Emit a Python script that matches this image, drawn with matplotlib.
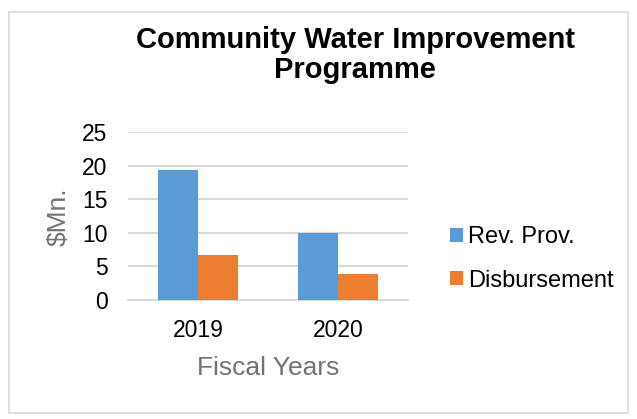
import numpy as np
import matplotlib
matplotlib.use("Agg")
import matplotlib.pyplot as plt
from matplotlib.patches import Rectangle

plt.rcParams['font.family'] = ['Liberation Sans', 'DejaVu Sans']

years = ['2019', '2020']
rev_prov = [19.4, 10.0]
disbursement = [6.7, 3.9]
series_names = ['Rev. Prov.', 'Disbursement']
yticks = [0, 5, 10, 15, 20, 25]
title_lines = ['Community Water Improvement', 'Programme']

blue = '#5B9BD5'
orange = '#ED7D31'
grid_c = '#D9D9D9'
label_c = '#737373'

fig = plt.figure(figsize=(6.37, 4.19), dpi=100, facecolor='white')
ax = fig.add_axes([0.2014, 0.284, 0.4396, 0.4002])

x = np.arange(len(years))
w = 0.2857
ax.bar(x - w / 2, rev_prov, w, color=blue, label=series_names[0], zorder=3)
ax.bar(x + w / 2, disbursement, w, color=orange, label=series_names[1], zorder=3)

ax.set_xlim(-0.5, len(years) - 0.5)
ax.set_ylim(0, 25)
ax.set_yticks(yticks)
ax.set_xticks(x)
ax.set_xticklabels(years)
ax.tick_params(axis='both', length=0, labelsize=16.5, colors='black')
ax.tick_params(axis='y', pad=15)
ax.tick_params(axis='x', pad=14)
ax.yaxis.grid(True, color=grid_c, lw=1.5, zorder=0)
for s in ['top', 'right', 'left']:
    ax.spines[s].set_visible(False)
ax.spines['bottom'].set_color(grid_c)
ax.spines['bottom'].set_linewidth(1.5)

ax.set_xlabel('Fiscal Years', fontsize=19, color=label_c, labelpad=10)
fig.text(58.5 / 637, 1 - 217 / 419, '$Mn.', rotation=90, fontsize=19,
         color=label_c, ha='center', va='center')

# two-line bold title, baselines placed separately
for line, base in zip(title_lines, [48, 78]):
    fig.text(355 / 637, 1 - base / 419, line, fontsize=21, fontweight='bold',
             ha='center', va='baseline')

fig.legend(loc='upper left', bbox_to_anchor=(450 / 637, 1 - 226 / 419),
           frameon=False, fontsize=17, handlelength=0.54, handleheight=0.54,
           handletextpad=0.24, labelspacing=0.92, borderpad=0, borderaxespad=0)

fig.patches.append(Rectangle((9 / 637, 6 / 419), 619 / 637, 401 / 419,
                             transform=fig.transFigure, fill=False,
                             edgecolor=grid_c, lw=1.2))

fig.savefig('out.png', dpi=100, facecolor='white')
